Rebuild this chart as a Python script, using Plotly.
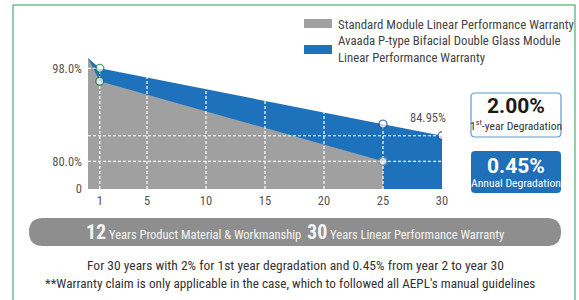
import plotly.graph_objects as go

# ---------------- data ----------------
years_blue = [0, 1, 25, 30]
avaada_warranty = [100.0, 98.0, 87.2, 84.95]
years_gray = [0, 1, 25]
standard_warranty = [100.0, 95.5, 80.0]

x_ticks = [1, 5, 10, 15, 20, 25, 30]
x_ticklabels = ["1", "5", "10", "15", "20", "25", "30"]
y_base = 74.65
y_ticks = [y_base, 80.0, 98.0]
y_ticklabels = ["0", "80.0%", "98.0%"]
v_grid = [1, 5, 10, 15, 20, 25]
h_grid = [98.0, 84.95, 80.0]

legend_labels = ["Standard Module Linear Performance Warranty",
                 "Avaada P-type Bifacial Double Glass Module<br>Linear Performance Warranty"]
first_year_deg = "2.00%"
annual_deg = "0.45%"

# ---------------- layout geometry (pixels) ----------------
W, H = 579, 300
L, R, T, B = 88, 442, 58, 189
FONT = "Roboto, Arial, sans-serif"
BLUE = "#1e72bb"
GRAY = "#a0a0a0"
TXT = "#555555"


def cond(s):
    return '<span style="font-stretch:75%">' + s + '</span>'


def px(x):
    return (x - L) / (R - L)


def py(y):
    return (B - y) / (B - T)


def rrect(x0, y0, x1, y1, r):
    pts = [("M", x0 + r, y0), ("L", x1 - r, y0), ("Q", x1, y0, x1, y0 + r),
           ("L", x1, y1 - r), ("Q", x1, y1, x1 - r, y1), ("L", x0 + r, y1),
           ("Q", x0, y1, x0, y1 - r), ("L", x0, y0 + r), ("Q", x0, y0, x0 + r, y0)]
    s = ""
    for p in pts:
        cmd = p[0]
        coords = p[1:]
        seg = []
        for i in range(0, len(coords), 2):
            seg.append(f"{px(coords[i]):.5f},{py(coords[i+1]):.5f}")
        s += cmd + " " + " ".join(seg) + " "
    return s + "Z"


fig = go.Figure()

fig.add_trace(go.Scatter(x=years_blue, y=avaada_warranty, fill="tozeroy", mode="lines",
                         line=dict(width=0, color=BLUE), fillcolor=BLUE,
                         name=legend_labels[1], hoverinfo="skip"))
fig.add_trace(go.Scatter(x=years_gray, y=standard_warranty, fill="tozeroy", mode="lines",
                         line=dict(width=0, color=GRAY), fillcolor=GRAY,
                         name=legend_labels[0], hoverinfo="skip"))

for xv in v_grid:
    fig.add_trace(go.Scatter(x=[xv, xv], y=[y_base, 100], mode="lines",
                             line=dict(color="white", width=1.2, dash="3px,2px"),
                             hoverinfo="skip"))
for yv in h_grid:
    fig.add_trace(go.Scatter(x=[0, 30], y=[yv, yv], mode="lines",
                             line=dict(color="white", width=1.2, dash="3px,2px"),
                             hoverinfo="skip"))

fig.add_trace(go.Scatter(x=years_blue, y=avaada_warranty, mode="markers",
                         marker=dict(size=[0, 8, 8, 8], color="white",
                                     line=dict(width=1.4, color=["#1a7a42", "#1a7a42", "#2b3990", "#2b3990"])),
                         hoverinfo="skip"))
fig.add_trace(go.Scatter(x=years_gray, y=standard_warranty, mode="markers",
                         marker=dict(size=[0, 8, 8], color="white",
                                     line=dict(width=1.4, color=["#1a7a42", "#1a7a42", "#888888"])),
                         hoverinfo="skip"))

shapes = []
annotations = []

# green frame
shapes.append(dict(type="rect", xref="paper", yref="paper",
                   x0=px(13), x1=px(575), y0=py(310), y1=py(5),
                   line=dict(color="#6cc08b", width=1.5), fillcolor="rgba(0,0,0,0)", layer="below"))

# legend
shapes.append(dict(type="rect", xref="paper", yref="paper", x0=px(304), x1=px(332),
                   y0=py(28), y1=py(19), fillcolor=GRAY, line=dict(width=0)))
shapes.append(dict(type="rect", xref="paper", yref="paper", x0=px(304), x1=px(332),
                   y0=py(54), y1=py(45), fillcolor=BLUE, line=dict(width=0)))
annotations.append(dict(xref="paper", yref="paper", x=px(336), y=py(24), xanchor="left",
                        yanchor="middle", text=cond(legend_labels[0]), showarrow=False,
                        font=dict(family=FONT, size=12.8, color="#444")))
annotations.append(dict(xref="paper", yref="paper", x=px(336), y=py(49.5), xanchor="left",
                        yanchor="middle", text=cond(legend_labels[1]), showarrow=False, align="left",
                        font=dict(family=FONT, size=12.8, color="#444")))

# end value label
annotations.append(dict(x=30, y=avaada_warranty[-1], xref="x", yref="y", text=cond("84.95%"),
                        showarrow=False, xanchor="right", yanchor="middle", xshift=6, yshift=18,
                        font=dict(family=FONT, size=12.5, color=TXT)))

# right boxes
shapes.append(dict(type="path", xref="paper", yref="paper", path=rrect(471, 93, 561, 137, 4),
                   fillcolor="white", line=dict(color="#5b9bd5", width=1.2)))
shapes.append(dict(type="path", xref="paper", yref="paper", path=rrect(471, 151, 561, 193, 4),
                   fillcolor="#1f70b9", line=dict(width=0)))
annotations.append(dict(xref="paper", yref="paper", x=px(516), y=py(106), text=f"<b>{first_year_deg}</b>",
                        showarrow=False, xanchor="center", yanchor="middle",
                        font=dict(family=FONT, size=21, color="#1a1a1a")))
annotations.append(dict(xref="paper", yref="paper", x=px(516), y=py(125),
                        text=cond("1<sup>st</sup>-year Degradation"),
                        showarrow=False, xanchor="center", yanchor="middle",
                        font=dict(family=FONT, size=11.6, color="#333")))
annotations.append(dict(xref="paper", yref="paper", x=px(516), y=py(166), text=f"<b>{annual_deg}</b>",
                        showarrow=False, xanchor="center", yanchor="middle",
                        font=dict(family=FONT, size=21, color="white")))
annotations.append(dict(xref="paper", yref="paper", x=px(516), y=py(183), text=cond("Annual Degradation"),
                        showarrow=False, xanchor="center", yanchor="middle",
                        font=dict(family=FONT, size=11.6, color="white")))

# banner
shapes.append(dict(type="path", xref="paper", yref="paper", path=rrect(29, 218, 561, 246, 14),
                   fillcolor="#8e8e8e", line=dict(width=0)))
annotations.append(dict(xref="paper", yref="paper", x=px(295), y=py(232),
                        text=cond('<b><span style="font-size:20px">12</span></b> Years Product Material &amp; Workmanship  '
                                  '<b><span style="font-size:20px">30</span></b> Years Linear Performance Warranty'),
                        showarrow=False, xanchor="center", yanchor="middle",
                        font=dict(family=FONT, size=12.5, color="#f4f4f4")))

# footnotes
annotations.append(dict(xref="paper", yref="paper", x=px(295), y=py(265),
                        text=cond("For 30 years with 2% for 1st year degradation and 0.45% from year 2 to year 30"),
                        showarrow=False, xanchor="center", yanchor="middle",
                        font=dict(family=FONT, size=13.5, color="#333")))
annotations.append(dict(xref="paper", yref="paper", x=px(290), y=py(283),
                        text=cond("**Warranty claim is only applicable in the case, which to followed all AEPL's manual guidelines"),
                        showarrow=False, xanchor="center", yanchor="middle",
                        font=dict(family=FONT, size=13.2, color="#333")))

fig.update_layout(
    width=W, height=H,
    margin=dict(l=L, r=W - R, t=T, b=H - B, autoexpand=False),
    paper_bgcolor="white", plot_bgcolor="white",
    showlegend=False,
    shapes=shapes, annotations=annotations,
    xaxis=dict(range=[0, 30], tickvals=x_ticks, ticktext=[cond(t) for t in x_ticklabels],
               showgrid=False, zeroline=False, showline=False, ticks="", fixedrange=True,
               ticklabelstandoff=2,
               tickfont=dict(family=FONT, size=12.5, color=TXT)),
    yaxis=dict(range=[y_base, 100], tickvals=y_ticks, ticktext=[cond(t) for t in y_ticklabels],
               showgrid=False, zeroline=False, showline=False, ticks="", fixedrange=True,
               ticklabelstandoff=5,
               tickfont=dict(family=FONT, size=12.5, color=TXT)),
)

fig.write_html("out.html", config={"displayModeBar": False},
               post_script="document.body.style.margin='0';")
